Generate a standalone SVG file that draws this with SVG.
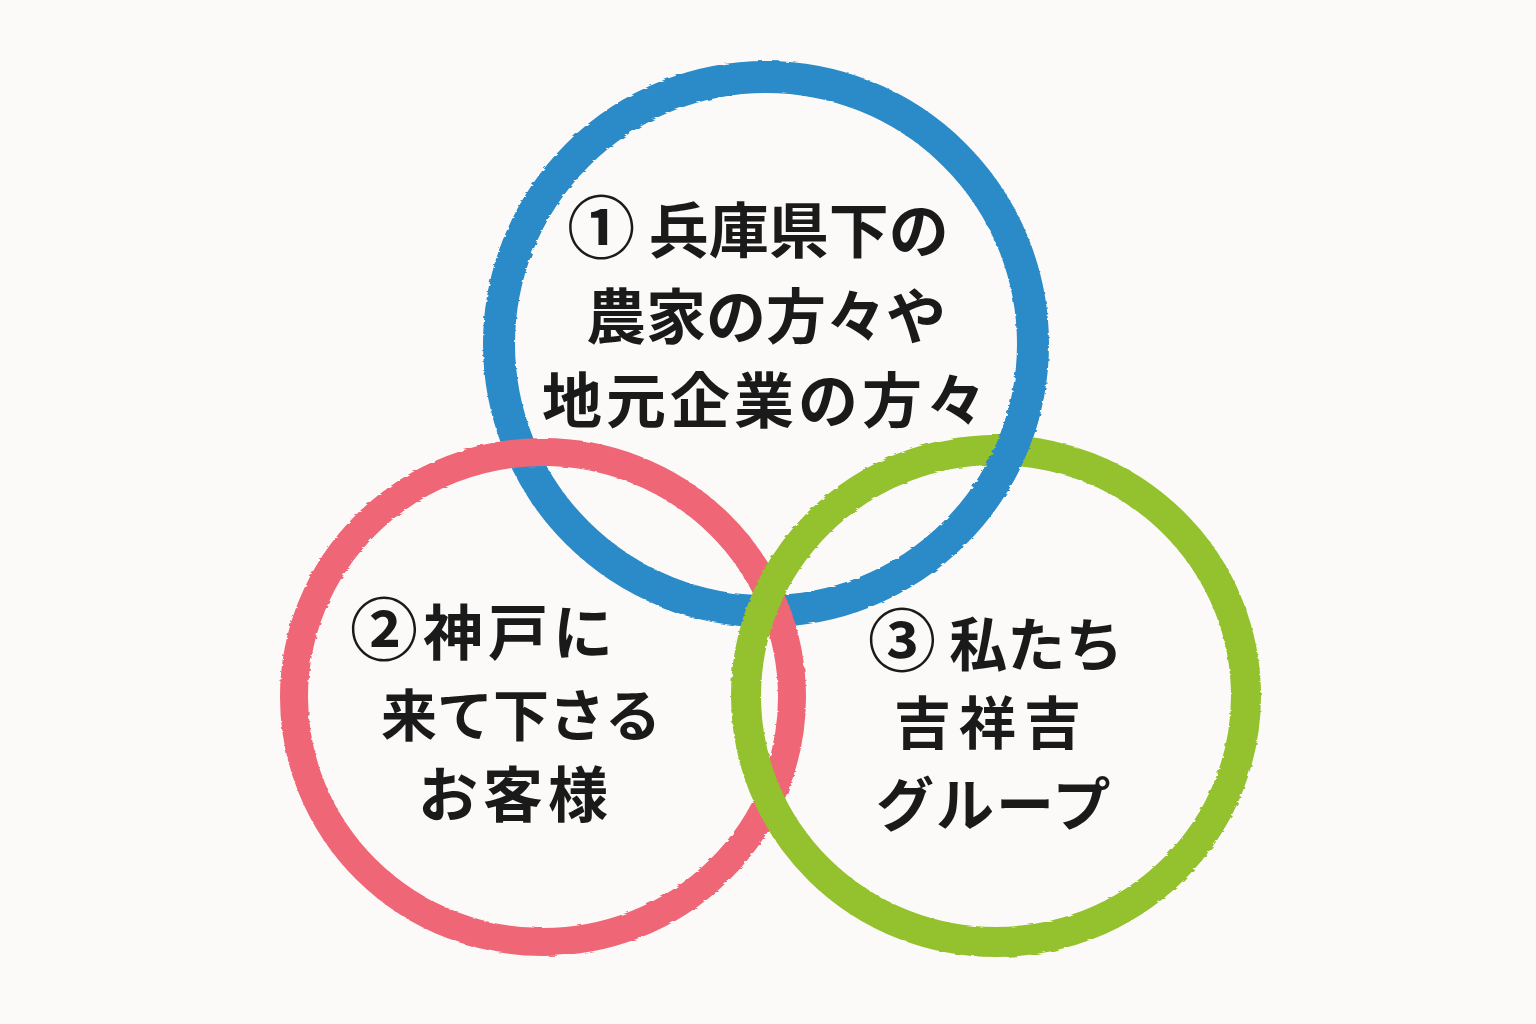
<svg xmlns="http://www.w3.org/2000/svg" width="1536" height="1024" viewBox="0 0 1536 1024">
<style>
.ring{fill:none}
.blue{stroke:#2a8bc8;stroke-width:32}
.pink{stroke:#ef6677;stroke-width:28}
.green{stroke:#94c12e;stroke-width:30}
.lbl{font-family:"Noto Sans CJK JP","Noto Sans CJK SC",sans-serif;font-weight:700;fill:#1a1a1a}
.num{font-weight:700;font-size:68px}
</style>
<defs>
<filter id="brush" x="-5%" y="-5%" width="110%" height="110%">
<feTurbulence type="fractalNoise" baseFrequency="0.05 0.3" numOctaves="2" seed="3"/>
<feDisplacementMap in="SourceGraphic" scale="3"/>
</filter>
<clipPath id="c1"><rect x="960" y="410" width="90" height="80"/></clipPath>
</defs>
<rect x="0" y="0" width="1536" height="1024" fill="#fbfaf8"/>
<g id="connectors"></g>
<g id="node-blue" filter="url(#brush)">
<circle class="ring blue" cx="766" cy="344" r="267"/>
</g>
<g id="node-pink" filter="url(#brush)">
<ellipse class="ring pink" cx="543" cy="697" rx="249" ry="245"/>
</g>
<g id="node-green" filter="url(#brush)">
<ellipse class="ring green" cx="996" cy="696" rx="250" ry="246"/>
</g>
<g id="weave" filter="url(#brush)">
<circle class="ring blue" cx="766" cy="344" r="267" clip-path="url(#c1)"/>
</g>
<g id="text-blue" class="lbl" font-size="60" text-anchor="middle">
<text x="758" y="253"><tspan class="num">①</tspan> 兵庫県下の</text>
<text x="766" y="339">農家の方々や</text>
<text x="766" y="423" letter-spacing="4">地元企業の方々</text>
</g>
<g id="text-pink" class="lbl" font-size="60">
<text x="350" y="655" letter-spacing="5"><tspan class="num">②</tspan>神戸に</text>
<text x="381" y="736" font-size="56">来て下さる</text>
<text x="418" y="817" letter-spacing="5">お客様</text>
</g>
<g id="text-green" class="lbl" font-size="58">
<text x="868" y="666"><tspan class="num">③</tspan> 私たち</text>
<text x="894" y="744" letter-spacing="8" font-size="57">吉祥吉</text>
<text x="876" y="826" letter-spacing="2">グループ</text>
</g>
</svg>
